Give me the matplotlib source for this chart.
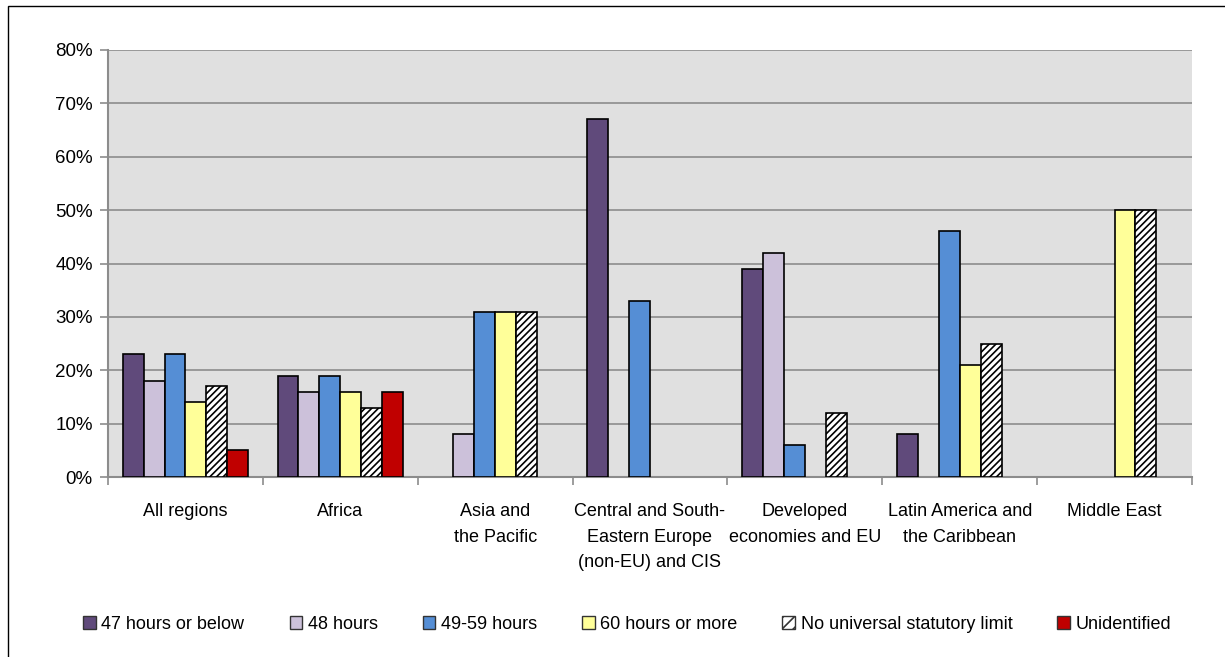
import matplotlib.pyplot as plt
import numpy as np
from matplotlib.patches import Rectangle

plt.rcParams['font.family'] = ['Liberation Sans', 'DejaVu Sans']
plt.rcParams['hatch.linewidth'] = 1.2
plt.rcParams['hatch.color'] = '#333333'

regions = ['All regions', 'Africa', 'Asia and\nthe Pacific',
           'Central and South-\nEastern Europe\n(non-EU) and CIS',
           'Developed\neconomies and EU', 'Latin America and\nthe Caribbean',
           'Middle East']
series = ['47 hours or below', '48 hours', '49-59 hours', '60 hours or more',
          'No universal statutory limit', 'Unidentified']

h47_or_below = [23, 19, 0, 67, 39, 8, 0]
h48 = [18, 16, 8, 0, 42, 0, 0]
h49_59 = [23, 19, 31, 33, 6, 46, 0]
h60_or_more = [14, 16, 31, 0, 0, 21, 50]
no_limit = [17, 13, 31, 0, 12, 25, 50]
unidentified = [5, 16, 0, 0, 0, 0, 0]

values = [h47_or_below, h48, h49_59, h60_or_more, no_limit, unidentified]
colors = ['#604A7B', '#CCC1DA', '#558ED5', '#FFFF99', 'white', '#C00000']
hatches = [None, None, None, None, '/////', None]

fig = plt.figure(figsize=(12.25, 6.57), dpi=100)
ax = fig.add_axes([108/1225, 1-477/657, 1084/1225, 427/657])
ax.set_facecolor('#E0E0E0')

x = np.arange(len(regions))
w = 0.135
for i, (vals, c, h, name) in enumerate(zip(values, colors, hatches, series)):
    pos = x + (i - 2.5) * w
    vals = np.array(vals, dtype=float)
    mask = vals > 0
    ax.bar(pos[mask], vals[mask], width=w, color=c, edgecolor='black',
           linewidth=1.2, hatch=h, zorder=3)
    # legend proxy
    ax.bar([np.nan], [0], width=w, color=c, edgecolor='#333333',
           linewidth=1.0, hatch='///' if h else None, label=name)

ax.set_xlim(-0.5, len(regions) - 0.5)
ax.set_ylim(0, 80)
ax.set_yticks(range(0, 81, 10))
ax.set_yticklabels([f'{v}%' for v in range(0, 81, 10)], fontsize=13.5)
ax.yaxis.grid(True, color='#8C8C8C', linewidth=1.2, zorder=0)
ax.set_axisbelow(True)

ax.set_xticks(x)
ax.set_xticklabels(regions, fontsize=13, linespacing=1.65)
ax.tick_params(axis='x', length=0, pad=19)
ax.tick_params(axis='y', length=6, color='#8C8C8C', width=1.2, pad=5)
ax.set_xticks(np.arange(-0.5, len(regions) + 0.5, 1), minor=True)
ax.tick_params(axis='x', which='minor', length=6, color='#8C8C8C', width=1.2)

for s in ['top', 'right']:
    ax.spines[s].set_visible(False)
for s in ['left', 'bottom']:
    ax.spines[s].set_color('#8C8C8C')
    ax.spines[s].set_linewidth(1.5)

ax.legend(loc='center', bbox_to_anchor=(0.479, -0.345),
          ncol=6, frameon=False, fontsize=13, handlelength=0.7,
          handleheight=0.7, handletextpad=0.3, columnspacing=2.5)

fig.patches.append(Rectangle((8/1225, -0.02), 1.1, 1 - 6/657 + 0.02,
                             transform=fig.transFigure, fill=False,
                             edgecolor='black', linewidth=1.0))

fig.savefig('out.png', dpi=100)
